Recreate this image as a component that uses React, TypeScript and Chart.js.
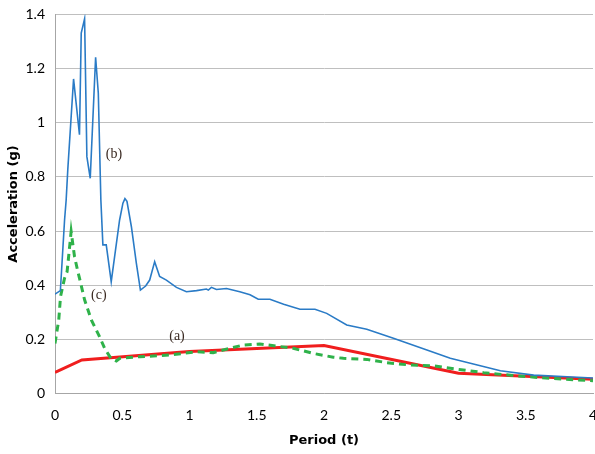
import React, { useEffect, useRef } from "react";
import { Chart, registerables } from "chart.js";

Chart.register(...registerables);

// (b) recorded spectrum (blue)
const bPeriods = [0, 0.04, 0.071, 0.083, 0.095, 0.138, 0.182, 0.195, 0.22, 0.237, 0.262, 0.302, 0.322, 0.341, 0.356, 0.381, 0.418, 0.443, 0.48, 0.505, 0.52, 0.535, 0.568, 0.605, 0.635, 0.674, 0.704, 0.741, 0.778, 0.828, 0.903, 0.977, 1.052, 1.126, 1.14, 1.163, 1.2, 1.275, 1.374, 1.45, 1.511, 1.598, 1.7, 1.821, 1.933, 2.02, 2.169, 2.318, 2.516, 2.765, 2.939, 3.088, 3.311, 3.559, 3.808, 4.0];
const bAccel = [0.367, 0.38, 0.64, 0.715, 0.826, 1.162, 0.956, 1.331, 1.384, 0.875, 0.795, 1.242, 1.109, 0.715, 0.549, 0.549, 0.413, 0.505, 0.64, 0.703, 0.72, 0.71, 0.616, 0.481, 0.382, 0.397, 0.419, 0.487, 0.432, 0.419, 0.392, 0.376, 0.38, 0.386, 0.382, 0.392, 0.384, 0.388, 0.376, 0.365, 0.348, 0.348, 0.33, 0.311, 0.311, 0.296, 0.253, 0.237, 0.204, 0.161, 0.13, 0.112, 0.084, 0.068, 0.062, 0.057];

// (c) matched spectrum (green dashed)
const cPeriods = [0, 0.028, 0.041, 0.071, 0.09, 0.12, 0.145, 0.17, 0.182, 0.22, 0.27, 0.331, 0.369, 0.418, 0.456, 0.482, 0.63, 0.853, 1.052, 1.176, 1.3, 1.399, 1.523, 1.648, 1.771, 1.92, 2.069, 2.144, 2.318, 2.467, 2.641, 2.814, 2.939, 3.187, 3.435, 3.683, 4.0];
const cAccel = [0.185, 0.272, 0.358, 0.426, 0.45, 0.598, 0.506, 0.45, 0.426, 0.346, 0.272, 0.21, 0.167, 0.128, 0.12, 0.13, 0.136, 0.142, 0.154, 0.151, 0.167, 0.179, 0.183, 0.175, 0.167, 0.148, 0.134, 0.13, 0.126, 0.114, 0.105, 0.102, 0.093, 0.077, 0.065, 0.056, 0.047];

// (a) design spectrum (red)
const aPeriods = [0, 0.2, 1.0, 2.0, 3.0, 4.0];
const aAccel = [0.078, 0.124, 0.155, 0.177, 0.075, 0.053];

// curve labels: [text, period, acceleration]
const curveLabels: [string, number, number][] = [
  ["(b)", 0.438, 0.885],
  ["(c)", 0.326, 0.364],
  ["(a)", 0.907, 0.21],
];

const yTicks = [0, 0.2, 0.4, 0.6, 0.8, 1, 1.2, 1.4];
const xTicks = [0, 0.5, 1, 1.5, 2, 2.5, 3, 3.5, 4];

const toXY = (xs: number[], ys: number[]) => xs.map((x, i) => ({ x, y: ys[i] }));

const labelPlugin = {
  id: "curveLabels",
  afterDatasetsDraw(chart: any) {
    const ctx = chart.ctx;
    const xs = chart.scales.x;
    const ys = chart.scales.y;
    ctx.save();
    ctx.font = "14px 'Liberation Serif', serif";
    ctx.fillStyle = "#3a2a22";
    ctx.textAlign = "center";
    ctx.textBaseline = "middle";
    curveLabels.forEach(([t, x, y]) => {
      ctx.fillText(t, xs.getPixelForValue(x), ys.getPixelForValue(y));
    });
    ctx.restore();
  },
};

export default function App() {
  const ref = useRef<HTMLCanvasElement | null>(null);
  useEffect(() => {
    if (!ref.current) return;
    const tickFont = { family: "Lato, 'Open Sans', sans-serif", size: 14 };
    const titleFont = { family: "'DejaVu Sans', sans-serif", size: 13, weight: "bold" as const };
    const fmt = (v: any) => String(Math.round(Number(v) * 100) / 100);
    const chart = new Chart(ref.current, {
      type: "line",
      data: {
        datasets: [
          {
            label: "(b)",
            data: toXY(bPeriods, bAccel),
            borderColor: "#2a7bc6",
            borderWidth: 1.6,
            pointRadius: 0,
            tension: 0,
            fill: false,
            order: 0,
          },
          {
            label: "(c)",
            data: toXY(cPeriods, cAccel),
            borderColor: "#2fb24a",
            borderWidth: 3,
            borderDash: [7, 5],
            pointRadius: 0,
            tension: 0,
            fill: false,
            order: 1,
          },
          {
            label: "(a)",
            data: toXY(aPeriods, aAccel),
            borderColor: "#f01e1e",
            borderWidth: 3,
            pointRadius: 0,
            tension: 0,
            fill: false,
            order: 2,
          },
        ],
      },
      options: {
        animation: false,
        responsive: false,
        maintainAspectRatio: false,
        layout: { padding: { top: 14.5, right: 2, left: 0, bottom: 0 } },
        plugins: { legend: { display: false }, tooltip: { enabled: false } },
        scales: {
          x: {
            type: "linear",
            min: 0,
            max: 4,
            afterBuildTicks: (s: any) => {
              s.ticks = xTicks.map((v) => ({ value: v }));
            },
            afterFit: (s: any) => {
              s.height = 60.5;
              s.paddingLeft = 0;
              s.paddingRight = 0;
            },
            grid: { display: false, drawTicks: false },
            border: { display: true, color: "#a6a6a6", width: 1 },
            ticks: { color: "#000", font: tickFont, padding: 14, maxRotation: 0, callback: fmt },
            title: {
              display: true,
              text: "Period (t)",
              color: "#000",
              font: titleFont,
              padding: { top: 0, bottom: 6 },
            },
          },
          y: {
            type: "linear",
            min: 0,
            max: 1.4,
            afterBuildTicks: (s: any) => {
              s.ticks = yTicks.map((v) => ({ value: v }));
            },
            afterFit: (s: any) => {
              s.width = 55;
              s.paddingTop = 0;
              s.paddingBottom = 0;
            },
            grid: { color: "#bfbfbf", lineWidth: 1, drawTicks: false },
            border: { display: true, color: "#a6a6a6", width: 1 },
            ticks: { color: "#000", font: tickFont, padding: 10, callback: fmt },
            title: {
              display: true,
              text: "Acceleration (g)",
              color: "#000",
              font: titleFont,
              padding: { top: 6, bottom: 0 },
            },
          },
        },
      },
      plugins: [labelPlugin],
    });
    return () => chart.destroy();
  }, []);
  return (
    <div style={{ position: "absolute", left: 0, top: 0, width: 595, height: 454, background: "#fff" }}>
      <canvas ref={ref} width={595} height={454} style={{ width: 595, height: 454 }} />
    </div>
  );
}
